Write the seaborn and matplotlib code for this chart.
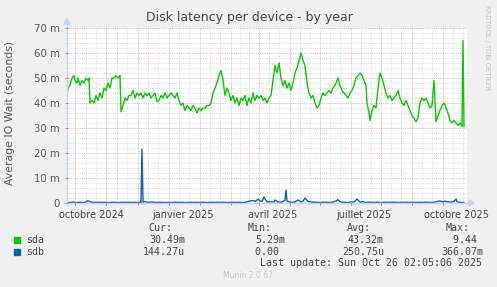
import numpy as np
import pandas as pd
import matplotlib
matplotlib.use("Agg")
import matplotlib.pyplot as plt
import seaborn as sns
from matplotlib.patches import Rectangle, Polygon

# ---------------- data (x = day index across the 400-day window) -------------
sda_day = [0, 1, 3, 5, 7, 8, 10, 11, 13, 15, 17, 19, 21, 22, 23, 25, 27, 29, 31, 33,
           35, 37, 39, 41, 43, 45, 47, 49, 51, 53, 54, 56, 58, 60, 62, 64, 66, 68, 70, 72,
           74, 76, 78, 80, 82, 84, 86, 88, 90, 92, 94, 96, 98, 100, 102, 104, 106, 108, 110, 112,
           114, 116, 118, 120, 122, 124, 126, 128, 130, 132, 134, 136, 138, 140, 142, 144, 146, 148, 150, 152,
           154, 156, 158, 160, 162, 164, 166, 168, 170, 172, 174, 176, 178, 180, 182, 184, 186, 188, 190, 192,
           194, 196, 198, 200, 202, 204, 206, 208, 210, 212, 214, 216, 218, 220, 222, 224, 226, 228, 230, 232,
           234, 236, 238, 240, 242, 244, 246, 248, 250, 252, 254, 256, 258, 260, 262, 264, 266, 268, 270, 271,
           273, 275, 277, 279, 281, 283, 285, 287, 289, 291, 293, 295, 297, 299, 300, 302, 303, 305, 307, 309,
           311, 313, 315, 317, 319, 321, 323, 325, 327, 329, 331, 333, 335, 337, 339, 341, 343, 345, 347, 349,
           351, 353, 355, 357, 359, 361, 363, 365, 367, 369, 371, 373, 375, 377, 379, 381, 383, 385, 387, 389,
           391, 393, 395, 396, 397]
sda_ms = [43, 46, 47, 50, 51, 49, 48, 50, 47, 49, 48, 50, 49, 50, 40, 41, 40, 43, 41, 44,
          42, 46, 45, 48, 46, 50, 50, 51, 50, 51, 36.5, 39, 42, 41, 43, 43, 45, 42, 44, 43,
          44, 42, 44, 43, 44, 42, 43, 44, 40.5, 41, 43, 42, 44, 42, 43, 44, 43, 42, 44, 41,
          39, 40, 37, 39, 38, 37, 39, 38, 36, 38, 37, 38, 38, 39, 39, 40, 44, 46, 48, 51,
          53, 49, 43, 46, 44, 41, 43, 40, 42, 39, 42, 41, 43, 39, 42, 40, 44, 41, 43, 42,
          43, 41, 42, 40, 42, 43, 49, 55, 52, 56, 50, 47, 49, 46, 48, 45, 48, 52, 54, 57,
          60, 57, 55, 48, 44, 42, 43, 40, 38, 39, 42, 44, 43, 44, 45, 44, 46, 47, 49, 50,
          47, 45, 44, 43, 42, 44, 45, 47, 50, 51, 52, 51, 49, 47, 40, 36, 33, 37, 39, 38,
          46, 52, 50, 47, 44, 42, 43, 41, 42, 43, 45, 42, 40, 39, 41, 39, 37, 35, 34, 32.5,
          34, 40, 42, 41, 42, 40, 38, 39, 49, 32.5, 35, 37, 39, 40, 38, 36, 33, 32, 33, 32,
          31, 32, 30.5, 65, 30.5]

sdb_day = [0, 3, 6, 9, 12, 15, 18, 21, 23, 25, 28, 31, 34, 37, 40, 43, 46, 49, 52, 55,
           58, 61, 64, 67, 70, 73, 74, 75, 76, 78, 81, 84, 87, 90, 93, 96, 99, 102, 105, 108,
           111, 114, 117, 120, 123, 126, 129, 132, 135, 138, 141, 144, 147, 150, 153, 156, 159, 162, 165, 168,
           171, 174, 177, 180, 183, 186, 188, 191, 194, 195, 197, 200, 203, 205, 207, 208, 211, 214, 217, 218,
           219, 220, 222, 225, 228, 231, 234, 236, 238, 241, 244, 247, 250, 253, 256, 259, 262, 265, 268, 270,
           271, 273, 275, 278, 281, 284, 287, 290, 293, 296, 298, 301, 304, 307, 310, 313, 316, 319, 322, 325,
           328, 331, 334, 337, 340, 343, 346, 349, 352, 355, 358, 361, 364, 367, 370, 373, 375, 378, 381, 384,
           387, 389, 390, 392, 395, 397]
sdb_ms = [0.3, 0.2, 0.4, 0.2, 0.3, 0.2, 0.3, 0.9, 0.5, 0.3, 0.2, 0.3, 0.2, 0.3, 0.2, 0.2, 0.3, 0.2, 0.2, 0.3,
          0.2, 0.3, 0.2, 0.3, 0.2, 0.3, 0.2, 21.5, 0.3, 0.5, 0.3, 0.4, 0.3, 0.2, 0.3, 0.2, 0.2, 0.3, 0.2, 0.3,
          0.2, 0.3, 0.2, 0.2, 0.3, 0.2, 0.3, 0.2, 0.3, 0.2, 0.2, 0.3, 0.2, 0.3, 0.2, 0.3, 0.2, 0.2, 0.3, 0.2,
          0.3, 0.2, 0.2, 0.5, 0.8, 1.0, 0.6, 1.5, 0.7, 0.6, 2.3, 0.4, 0.5, 0.4, 0.5, 1.2, 0.4, 0.3, 0.8, 1.1,
          5.2, 0.8, 0.4, 0.3, 0.4, 1.2, 0.4, 0.7, 2.0, 0.6, 0.4, 0.3, 0.3, 0.2, 0.3, 0.3, 0.2, 0.3, 0.6, 1.1,
          1.3, 0.5, 0.3, 0.3, 0.2, 0.4, 0.3, 1.6, 0.3, 0.6, 0.2, 0.3, 0.3, 0.2, 0.3, 0.2, 0.3, 0.3, 0.2, 0.3,
          0.3, 0.2, 0.3, 0.2, 0.3, 0.2, 0.3, 0.2, 0.3, 0.2, 0.3, 0.3, 0.2, 0.3, 0.6, 0.8, 0.5, 0.7, 0.5, 0.4,
          0.6, 1.6, 0.5, 0.3, 0.2, 0.2]

xtick_days = [24, 116, 206, 297, 389]
xtick_labels = ["octobre 2024", "janvier 2025", "avril 2025", "juillet 2025", "octobre 2025"]
major_days = [8.3, 39.3, 70.7, 101.7, 132.7, 163.7, 191.7, 222.7, 252.7, 283.7, 313.7, 344.7, 375.7]
ytick_vals = [0, 10, 20, 30, 40, 50, 60, 70]
ytick_labels = ["0", "10 m", "20 m", "30 m", "40 m", "50 m", "60 m", "70 m"]

series_names = ["sda", "sdb"]
series_colors = ["#00cc00", "#0066b3"]
legend_cur = ["30.49m", "144.27u"]
legend_min = ["5.29m", "0.00"]
legend_avg = ["43.32m", "250.75u"]
legend_max = ["9.44", "366.07m"]

# ---------------- figure ----------------
sns.set_style("white")
plt.rcParams["font.family"] = ["DejaVu Sans"]

W, H = 497, 287
fig = plt.figure(figsize=(W / 100, H / 100), dpi=100, facecolor="#f0f0f0")


def fx(px):
    return px / W


def fy(py):
    return 1 - py / H


x0, x1, y0, y1 = 67, 467, 203, 28
ax = fig.add_axes([fx(x0), fy(y0), fx(x1) - fx(x0), fy(y1) - fy(y0)])
ax.set_facecolor("white")
ax.set_xlim(0, 400)
ax.set_ylim(0, 70)

# grid
minor_days = []
prev = major_days[0] - (major_days[1] - major_days[0])
for d in [prev] + major_days + [major_days[-1] + 31]:
    pass
allm = [prev] + major_days + [major_days[-1] + 31]
for a, b in zip(allm[:-1], allm[1:]):
    for k in (1, 2):
        v = a + (b - a) * k / 3
        if 0 < v < 400:
            minor_days.append(v)
dot = (0, (1, 1.2))
for v in minor_days:
    ax.axvline(v, color="#d8d8d8", lw=0.6, ls=dot, zorder=1)
for v in np.arange(2, 70, 2):
    if v % 10:
        ax.axhline(v, color="#d8d8d8", lw=0.6, ls=dot, zorder=1)
for v in major_days:
    ax.axvline(v, color="#e8a8a8", lw=0.6, ls=dot, zorder=1.5)
for v in ytick_vals[1:]:
    ax.axhline(v, color="#e8a8a8", lw=0.6, ls=dot, zorder=1.5)

df = pd.concat([
    pd.DataFrame({"day": sda_day, "val": sda_ms, "dev": "sda"}),
    pd.DataFrame({"day": sdb_day, "val": sdb_ms, "dev": "sdb"}),
])
sns.lineplot(data=df, x="day", y="val", hue="dev", palette=series_colors,
             hue_order=series_names, ax=ax, lw=1.0, legend=False, zorder=3,
             estimator=None, sort=False)

for s in ax.spines.values():
    s.set_visible(False)
ax.set_xlabel("")
ax.set_ylabel("")
ax.set_xticks(xtick_days)
ax.set_xticklabels(xtick_labels, fontsize=7, color="#444444")
ax.set_yticks(ytick_vals)
ax.set_yticklabels(ytick_labels, fontsize=7.3, color="#555555")
ax.tick_params(axis="both", length=0, pad=5)

# axis lines with arrows (pale blue)
acol = "#c6cff5"
fig.add_artist(plt.Line2D([fx(x0), fx(x0)], [fy(y0 + 3), fy(22)], color=acol, lw=1.0))
fig.add_artist(plt.Line2D([fx(x0 - 3), fx(470)], [fy(y0), fy(y0)], color=acol, lw=1.0))
fig.add_artist(Polygon([[fx(x0 - 3), fy(24)], [fx(x0 + 3), fy(24)], [fx(x0), fy(19)]],
                       closed=True, color=acol))
fig.add_artist(Polygon([[fx(469), fy(y0 - 3)], [fx(469), fy(y0 + 3)], [fx(474), fy(y0)]],
                       closed=True, color=acol))
# red tick marks on axes
for v in major_days:
    px = x0 + v
    fig.add_artist(plt.Line2D([fx(px), fx(px)], [fy(y0 - 1), fy(y0 + 2)], color="#e08080", lw=0.7))
for v in ytick_vals:
    py = y0 - v * 2.5
    fig.add_artist(plt.Line2D([fx(x0 - 2), fx(x0 + 1)], [fy(py), fy(py)], color="#e08080", lw=0.7))

# titles
fig.text(fx(249), fy(18), "Disk latency per device - by year", ha="center", va="center",
         fontsize=9, color="#444444")
fig.text(fx(10), fy(113), "Average IO Wait (seconds)", rotation=90, ha="center", va="center",
         fontsize=7.8, color="#555555")
fig.text(fx(487), fy(5), "RRDTOOL / TOBI OETIKER", rotation=270, ha="center", va="top",
         fontsize=4.8, color="#c0c0c0")

# legend
mono = "DejaVu Sans Mono"
lc = "#444444"
fs = 7.2
for lbl, px in zip(["Cur:", "Min:", "Avg:", "Max:"], [172, 272, 371, 470]):
    fig.text(fx(px), fy(228), lbl, ha="right", va="center", fontsize=fs, family=mono, color=lc)
rows_y = [240, 252]
for i, name in enumerate(series_names):
    yy = rows_y[i]
    fig.add_artist(Rectangle((fx(14), fy(yy + 3)), fx(6), 6 / H, color=series_colors[i]))
    fig.text(fx(26), fy(yy), name, ha="left", va="center", fontsize=fs, family=mono, color=lc)
    for vals, px in zip([legend_cur, legend_min, legend_avg, legend_max], [185, 285, 384, 483]):
        v = vals[i]
        if not v[-1].isalpha():
            v = v + " "
        fig.text(fx(px), fy(yy), v, ha="right", va="center", fontsize=fs, family=mono, color=lc)
fig.text(fx(482), fy(263), "Last update: Sun Oct 26 02:05:06 2025", ha="right", va="center",
         fontsize=fs, family=mono, color=lc)
fig.text(fx(248), fy(276), "Munin 2.0.67", ha="center", va="center", fontsize=5.5, color="#c8c8c8")

fig.savefig("out.png", dpi=100, facecolor=fig.get_facecolor())
